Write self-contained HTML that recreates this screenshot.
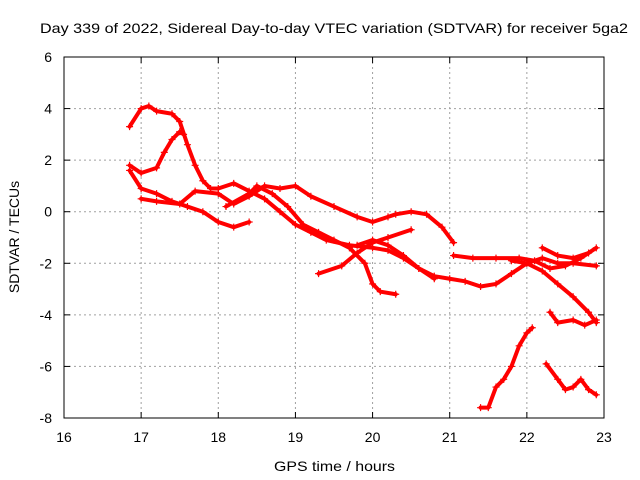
<!DOCTYPE html>
<html><head><meta charset="utf-8"><style>
body{margin:0;background:#fff}
svg{display:block;font-family:"Liberation Sans",sans-serif}
</style></head><body>
<svg id="chart" width="640" height="480">
<rect width="640" height="480" fill="#fff"/>
<text x="40" y="33" font-size="14" textLength="588" lengthAdjust="spacingAndGlyphs">Day 339 of 2022, Sidereal Day-to-day VTEC variation (SDTVAR) for receiver 5ga2</text>
<text x="274" y="471" font-size="14" textLength="121" lengthAdjust="spacingAndGlyphs">GPS time / hours</text>
<text transform="translate(19,237) rotate(-90)" font-size="14" text-anchor="middle">SDTVAR / TECUs</text>
<g id="grid"></g>
<g id="ticks"></g>
<g id="series"></g>
<rect x="64" y="57" width="540" height="361" fill="none" stroke="#000" stroke-width="1"/>
</svg>
<script>
const xTicks=[16,17,18,19,20,21,22,23];
const yTicks=[6,4,2,0,-2,-4,-6,-8];
const trackA=[[16.85,3.3],[17.0,4.0],[17.1,4.1],[17.2,3.9],[17.4,3.8],[17.5,3.5],[17.6,2.6],[17.7,1.8],[17.8,1.2],[17.9,0.9],[18.0,0.9],[18.2,1.1],[18.4,0.8],[18.6,0.5],[18.8,0.0],[19.0,-0.5],[19.2,-0.8],[19.4,-1.1],[19.7,-1.3],[20.0,-1.4],[20.2,-1.5],[20.4,-1.8],[20.6,-2.2],[20.8,-2.6]];
const trackB=[[16.85,1.8],[17.0,1.5],[17.2,1.7],[17.3,2.3],[17.4,2.8],[17.5,3.1],[17.55,3.0]];
const trackC=[[16.85,1.6],[17.0,0.9],[17.2,0.7],[17.4,0.4],[17.6,0.2],[17.8,0.0],[18.0,-0.4],[18.2,-0.6],[18.4,-0.4]];
const trackD=[[17.0,0.5],[17.2,0.4],[17.5,0.3],[17.7,0.8],[18.0,0.7],[18.2,0.3],[18.4,0.6],[18.6,1.0],[18.8,0.9],[19.0,1.0],[19.2,0.6],[19.5,0.2],[19.8,-0.2],[20.0,-0.4],[20.2,-0.2],[20.3,-0.1],[20.5,0.0],[20.7,-0.1],[20.9,-0.6],[21.05,-1.2]];
const trackE=[[18.1,0.2],[18.4,0.7],[18.5,1.0],[18.7,0.7],[18.9,0.2],[19.1,-0.5],[19.3,-0.8],[19.5,-1.1],[19.7,-1.4],[19.9,-2.0],[20.0,-2.8],[20.1,-3.1],[20.3,-3.2]];
const trackF=[[19.3,-2.4],[19.6,-2.1],[19.8,-1.6],[20.0,-1.2],[20.2,-1.0],[20.5,-0.7]];
const trackG=[[19.8,-1.3],[20.0,-1.1],[20.2,-1.3],[20.4,-1.7],[20.6,-2.2],[20.8,-2.5],[21.0,-2.6],[21.2,-2.7],[21.4,-2.9],[21.6,-2.8],[21.8,-2.4],[22.0,-2.0],[22.2,-1.8],[22.4,-2.0],[22.6,-2.0],[22.9,-2.1]];
const trackH=[[21.05,-1.7],[21.3,-1.8],[21.6,-1.8],[21.9,-1.8],[22.1,-1.9],[22.3,-2.2],[22.5,-2.1],[22.7,-1.8],[22.9,-1.4]];
const trackI=[[21.8,-1.9],[22.0,-2.0],[22.2,-2.3],[22.4,-2.8],[22.6,-3.3],[22.8,-3.9],[22.9,-4.3]];
const trackJ=[[22.2,-1.4],[22.4,-1.7],[22.6,-1.8],[22.8,-1.6]];
const trackK=[[22.3,-3.9],[22.4,-4.3],[22.6,-4.2],[22.75,-4.4],[22.9,-4.2]];
const trackL=[[21.4,-7.6],[21.5,-7.6],[21.6,-6.8],[21.7,-6.5],[21.8,-6.0],[21.9,-5.2],[22.0,-4.7],[22.07,-4.5]];
const trackM=[[22.25,-5.9],[22.4,-6.5],[22.5,-6.9],[22.6,-6.8],[22.7,-6.5],[22.8,-6.9],[22.9,-7.1]];
const tracks=[trackA,trackB,trackC,trackD,trackE,trackF,trackG,trackH,trackI,trackJ,trackK,trackL,trackM];
const NS='http://www.w3.org/2000/svg';
const X0=64,X1=604,Y0=418,Y1=57;
function sx(v){return X0+(v-16)/(23-16)*(X1-X0);}
function sy(v){return Y0-(v+8)/(6+8)*(Y0-Y1);}
function mk(t,a,p){const e=document.createElementNS(NS,t);for(const k in a)e.setAttribute(k,a[k]);p.appendChild(e);return e;}
const grid=document.getElementById('grid'),ticks=document.getElementById('ticks'),series=document.getElementById('series');
xTicks.forEach(v=>{const x=sx(v);
 if(v>16&&v<23){const g=mk('line',{x1:x,x2:x,y1:Y1,y2:Y0,stroke:'#a0a0a0','stroke-dasharray':'2,3','stroke-width':1},grid);}
 mk('line',{x1:x,x2:x,y1:Y0,y2:Y0-6,stroke:'#000'},ticks);mk('line',{x1:x,x2:x,y1:Y1,y2:Y1+6,stroke:'#000'},ticks);
 const t=mk('text',{x:x,y:Y0+24,'font-size':14,'text-anchor':'middle'},ticks);t.textContent=v;
 });
yTicks.forEach(v=>{const y=sy(v);
 if(v>-8&&v<6){const g=mk('line',{x1:X0,x2:X1,y1:y,y2:y,stroke:'#a0a0a0','stroke-dasharray':'2,3','stroke-width':1},grid);}
 mk('line',{x1:X0,x2:X0+6,y1:y,y2:y,stroke:'#000'},ticks);mk('line',{x1:X1,x2:X1-6,y1:y,y2:y,stroke:'#000'},ticks);
 const t=mk('text',{x:X0-12,y:y+5,'font-size':14,'text-anchor':'end'},ticks);t.textContent=v;
 });
tracks.forEach(tr=>{
 const pl=mk('polyline',{points:tr.map(p=>sx(p[0])+','+sy(p[1])).join(' '),fill:'none',stroke:'#f00','stroke-width':4,'stroke-linejoin':'round','stroke-linecap':'round'},series);
 
 
 tr.forEach(p=>{const x=sx(p[0]),y=sy(p[1]);
  const m=mk('path',{d:`M${x-3.5},${y}H${x+3.5}M${x},${y-3.5}V${y+3.5}`,stroke:'#f00','stroke-width':1.2},series);
  
  });
});
</script>
</body></html>
